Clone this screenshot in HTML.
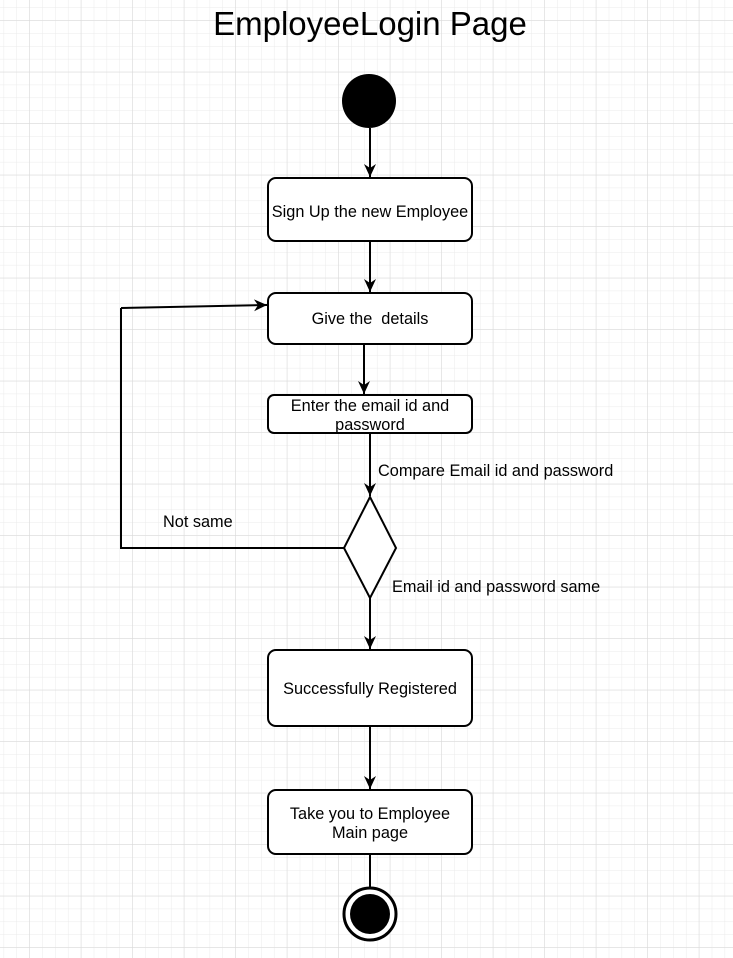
<!DOCTYPE html>
<html><head><style>
html,body{margin:0;padding:0;background:#fff}
svg{display:block}
text{font-family:"Liberation Sans",Arial,sans-serif;fill:#000}
</style></head><body>
<svg width="733" height="958" viewBox="0 0 733 958" xmlns="http://www.w3.org/2000/svg">
<defs>
<pattern id="g" width="12.875" height="12.875" patternUnits="userSpaceOnUse" x="3.6" y="7.4">
<path d="M0 0H12.875M0 0V12.875" stroke="#ebebeb" stroke-width="1" fill="none"/>
</pattern>
<pattern id="G" width="51.5" height="51.5" patternUnits="userSpaceOnUse" x="29.3" y="20.3">
<path d="M0 0H51.5M0 0V51.5" stroke="#d8d8d8" stroke-width="1" fill="none"/>
</pattern>
<marker id="a" markerWidth="14" markerHeight="14" refX="13" refY="6" orient="auto" markerUnits="userSpaceOnUse">
<path d="M0,0 L13,6 L0,12 L4,6 z" fill="#000"/>
</marker>
</defs>
<rect width="733" height="958" fill="url(#g)"/>
<rect width="733" height="958" fill="url(#G)"/>
<text x="370" y="35" font-size="33" text-anchor="middle">EmployeeLogin Page</text>
<circle cx="369" cy="101" r="27" fill="#000"/>
<g stroke="#000" stroke-width="2" fill="none">
<line x1="370" y1="128" x2="370" y2="177" marker-end="url(#a)"/>
<line x1="370" y1="241" x2="370" y2="292" marker-end="url(#a)"/>
<line x1="364" y1="344" x2="364" y2="394" marker-end="url(#a)"/>
<line x1="370" y1="433" x2="370" y2="496" marker-end="url(#a)"/>
<line x1="370" y1="598" x2="370" y2="649" marker-end="url(#a)"/>
<line x1="370" y1="726" x2="370" y2="789" marker-end="url(#a)"/>
<line x1="370" y1="854" x2="370" y2="888"/>
<polyline points="344,548 121,548 121,308"/>
<line x1="121" y1="308" x2="267" y2="305" marker-end="url(#a)"/>
</g>
<g stroke="#000" stroke-width="2" fill="#fff">
<rect x="268" y="178" width="204" height="63" rx="8"/>
<rect x="268" y="293" width="204" height="51" rx="8"/>
<rect x="268" y="395" width="204" height="38" rx="6"/>
<polygon points="370,497 396,548 370,598 344,548"/>
<rect x="268" y="650" width="204" height="76" rx="8"/>
<rect x="268" y="790" width="204" height="64" rx="8"/>
</g>
<circle cx="370" cy="914" r="26" fill="#fff" stroke="#000" stroke-width="3"/>
<circle cx="370" cy="914" r="20" fill="#000"/>
<g font-size="16.3" text-anchor="middle">
<text x="370" y="217">Sign Up the new Employee</text>
<text x="370" y="324">Give the&#160; details</text>
<text x="370" y="411">Enter the email id and</text>
<text x="370" y="430">password</text>
<text x="370" y="694">Successfully Registered</text>
<text x="370" y="819">Take you to Employee</text>
<text x="370" y="838">Main page</text>
</g>
<g font-size="16.3">
<text x="378" y="476">Compare Email id and password</text>
<text x="392" y="592">Email id and password same</text>
<text x="163" y="527">Not same</text>
</g>
</svg>
</body></html>
